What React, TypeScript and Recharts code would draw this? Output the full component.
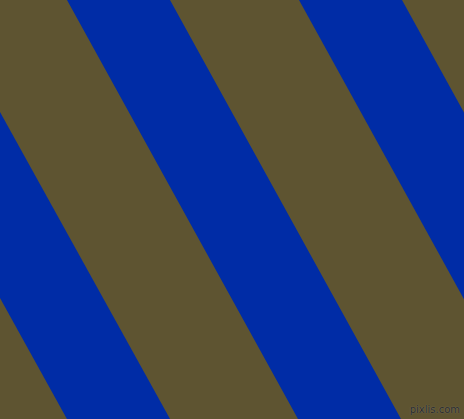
import React from 'react';
import { ComposedChart, Line, XAxis, YAxis } from 'recharts';

const W = 464;
const H = 419;

// blue stripes: left edge at the top row and at the bottom row (px across)
const stripeTopLeft = [-165, 67, 299];
const stripeBottomLeft = [67, 298, 530];
const stripeWidth = 103; // horizontal width of a stripe
const rows = [0, H];

const OLIVE = '#5e5431';
const BLUE = '#002ca6';

const stripes = stripeTopLeft.map((top, i) => [
  { x: top + stripeWidth / 2, y: rows[0] },
  { x: stripeBottomLeft[i] + stripeWidth / 2, y: rows[1] },
]);

// stroke measured across the slant, not horizontally
const slope = (stripeBottomLeft[1] - stripeTopLeft[1]) / H;
const strokeW = stripeWidth / Math.sqrt(1 + slope * slope);

const App: React.FC = () => {
  return (
    <div
      style={{
        position: 'absolute',
        top: 0,
        left: 0,
        width: W,
        height: H,
        overflow: 'hidden',
        background: OLIVE,
      }}
    >
      <ComposedChart width={W} height={H} margin={{ top: 0, right: 0, bottom: 0, left: 0 }}>
        <XAxis type="number" dataKey="x" domain={[0, W]} allowDataOverflow hide />
        <YAxis type="number" dataKey="y" domain={[0, H]} reversed allowDataOverflow hide />
        {stripes.map((d, i) => (
          <Line
            key={i}
            data={d}
            dataKey="y"
            stroke={BLUE}
            strokeWidth={strokeW}
            strokeLinecap="square"
            dot={false}
            activeDot={false}
            isAnimationActive={false}
          />
        ))}
      </ComposedChart>
      <div
        style={{
          position: 'absolute',
          right: 4,
          bottom: 3,
          fontFamily: 'DejaVu Sans',
          fontSize: 10,
          lineHeight: '12px',
          color: '#2a2a2a',
          textShadow: '0 0 1px #8a8a7a',
        }}
      >
        pixlis.com
      </div>
    </div>
  );
};

export default App;
